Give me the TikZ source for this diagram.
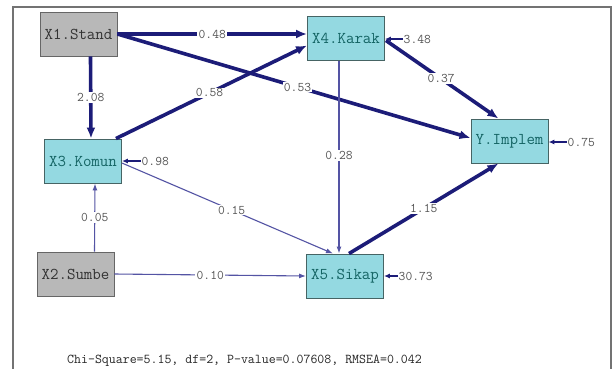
\documentclass[tikz,border=0pt]{standalone}
\usepackage{fontspec}
\usetikzlibrary{arrows.meta,calc}
\definecolor{pathnavy}{RGB}{28,28,120}
\definecolor{paththin}{RGB}{84,84,164}
\definecolor{latentcyan}{RGB}{148,217,225}
\definecolor{obsgray}{RGB}{184,184,184}
\definecolor{boxedge}{RGB}{70,100,100}
\definecolor{cyantext}{RGB}{20,100,100}
\definecolor{lbltext}{RGB}{85,85,85}
\definecolor{framegray}{RGB}{115,115,115}
\begin{document}
\begin{tikzpicture}[x=1pt,y=-1pt,
  varbox/.style={draw=boxedge,line width=0.9pt,minimum width=77pt,minimum height=44pt,
    inner sep=0pt,font=\ttfamily\fontsize{16.5}{17}\selectfont},
  latentbox/.style={varbox,fill=latentcyan,text=cyantext},
  exobox/.style={varbox,fill=obsgray,draw=black!60,text=black!80},
  strong/.style={draw=pathnavy,line width=3.6pt,-{Latex[length=11pt,width=9pt]}},
  weak/.style={draw=paththin,line width=1.1pt,-{Latex[length=7pt,width=5pt]}},
  errarrow/.style={draw=pathnavy,line width=2.2pt,-{Latex[length=6pt,width=5pt]}},
  lbl/.style={fill=white,inner sep=1.2pt,text=lbltext,font=\ttfamily\fontsize{13.2}{14}\selectfont},
  errlbl/.style={anchor=west,inner sep=0.5pt,text=lbltext,font=\ttfamily\fontsize{13.2}{14}\selectfont}]
\useasboundingbox (0,0) rectangle (613,368);
\fill[white] (0,0) rectangle (613,368);
% window frame
\draw[framegray,line width=2pt] (13,372) -- (13,7) -- (611,7) -- (611,372);

% variables
\node[exobox]    (X1) at (78.5,34)  {X1.Stand};
\node[latentbox] (X4) at (346,38.5) {X4.Karak};
\node[latentbox] (X3) at (83,161)   {X3.Komun};
\node[latentbox] (Y)  at (509.5,141){Y.Implem};
\node[exobox]    (X2) at (75.5,274) {X2.Sumbe};
\node[latentbox] (X5) at (345,276)  {X5.Sikap};

% error variances
\node[errlbl] (e4) at (403,39)  {3.48};
\node[errlbl] (e3) at (141,161) {0.98};
\node[errlbl] (ey) at (567,142) {0.75};
\node[errlbl] (e5) at (398,276) {30.73};
\draw[errarrow] (e4.west) -- (X4.east |- e4.west);
\draw[errarrow] (e3.west) -- (X3.east |- e3.west);
\draw[errarrow] (ey.west) -- (Y.east |- ey.west);
\draw[errarrow] (e5.west) -- (X5.east |- e5.west);

% structural paths
\path[strong] (X1.east) -- (X4.west |- X1.east) node[lbl,pos=0.5] (l48) {0.48};
\path[strong] (X1.east) -- ($(Y.west)+(0,-3)$) node[lbl,pos=0.51] (l53) {0.53};
\path[strong] ($(X1.south)+(12,0)$) -- ($(X3.north)+(8,0)$) node[lbl,pos=0.5] (l208) {2.08};
\path[strong] ($(X3.north east)+(-6,0)$) -- ($(X4.west)+(0,7)$) node[lbl,pos=0.49] (l58) {0.58};
\path[strong] ($(X4.east)+(1,2)$) -- ($(Y.north)+(-11,0)$) node[lbl,pos=0.49] (l37) {0.37};
\path[weak] ($(X4.south)+(-7,0)$) -- ($(X5.north)+(-6,0)$) node[lbl,pos=0.49] (l28) {0.28};
\path[weak] ($(X3.east)+(0,2)$) -- ($(X5.north)+(-12,0)$) node[lbl,pos=0.52] (l15) {0.15};
\path[weak] ($(X2.north)+(19,0)$) -- ($(X3.south)+(12,0)$) node[lbl,pos=0.5] (l05) {0.05};
\path[weak] (X2.east) -- (X5.west) node[lbl,pos=0.5] (l10) {0.10};
\path[strong] ($(X5.north)+(4,0)$) -- ($(Y.south)+(-11,0)$) node[lbl,pos=0.5] (l115) {1.15};

% fit statistics
\node[anchor=base west,inner sep=0pt,text=black!85,font=\ttfamily\fontsize{13.5}{14}\selectfont] (fit) at (67,363)
  {Chi-Square=5.15, df=2, P-value=0.07608, RMSEA=0.042};
\end{tikzpicture}
\end{document}
